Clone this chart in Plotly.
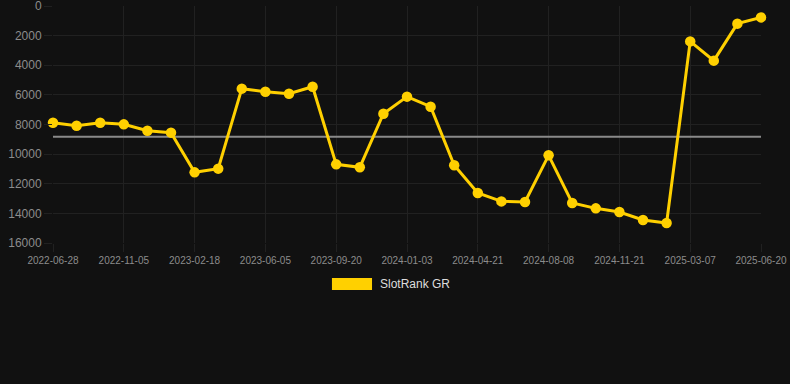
import plotly.graph_objects as go

dates = ["2022-06-28", "2022-08-10", "2022-09-23", "2022-11-05", "2022-12-18", "2023-01-31",
         "2023-02-18", "2023-04-02", "2023-05-15", "2023-06-05", "2023-07-18", "2023-08-30",
         "2023-09-20", "2023-11-02", "2023-12-15", "2024-01-03", "2024-02-15", "2024-03-29",
         "2024-04-21", "2024-06-03", "2024-07-16", "2024-08-08", "2024-09-20", "2024-11-02",
         "2024-11-21", "2025-01-03", "2025-02-15", "2025-03-07", "2025-04-19", "2025-06-01",
         "2025-06-20"]
ranks = [7880, 8080, 7880, 7990, 8420, 8550, 11230, 10980, 5580, 5790, 5920, 5450,
         10690, 10890, 7270, 6120, 6800, 10750, 12620, 13190, 13230, 10080, 13300, 13660,
         13910, 14450, 14650, 2390, 3690, 1190, 770]
series_name = "SlotRank GR"
y_ticks = [0, 2000, 4000, 6000, 8000, 10000, 12000, 14000, 16000]
y_labels = [str(v) for v in y_ticks]

avg = sum(ranks) / len(ranks)
yellow = "#FFD000"
grid = "#212121"

fig = go.Figure()
fig.add_trace(go.Scatter(
    x=dates, y=[avg] * len(dates), mode="lines",
    line=dict(color="#8a8a8a", width=2), hoverinfo="skip", showlegend=False))
fig.add_trace(go.Scatter(
    x=dates, y=ranks, mode="lines+markers", name=series_name,
    line=dict(color=yellow, width=3), marker=dict(color=yellow, size=10.5),
    cliponaxis=False, showlegend=False))

fig.update_layout(
    width=790, height=384,
    margin=dict(l=53, r=29, t=6, b=141, autoexpand=False),
    paper_bgcolor="#111111", plot_bgcolor="#111111",
    font=dict(family="Liberation Sans, Arial, sans-serif", color="#8c8c8c"),
    xaxis=dict(type="category", range=[0, len(dates) - 1],
               tickvals=dates[::3], ticktext=dates[::3],
               tickangle=0, automargin=False,
               showgrid=True, gridcolor=grid, gridwidth=1,
               ticks="outside", ticklen=8, tickcolor=grid,
               tickfont=dict(size=10, color="#8c8c8c"),
               zeroline=False, showline=False),
    yaxis=dict(range=[16000, 0], tickvals=y_ticks, ticktext=y_labels,
               ticklabeloverflow="allow", automargin=False,
               showgrid=True, gridcolor=grid, gridwidth=1,
               ticks="outside", ticklen=8, tickcolor=grid,
               tickfont=dict(size=12, color="#8c8c8c"),
               zeroline=False, showline=False),
    shapes=[dict(type="rect", xref="paper", yref="paper",
                 x0=0.394, x1=0.4506, y0=-0.198, y1=-0.1477,
                 fillcolor=yellow, line=dict(width=0))],
    annotations=[dict(text=series_name, xref="paper", yref="paper",
                      x=0.459, y=-0.173, xanchor="left", yanchor="middle",
                      showarrow=False, font=dict(size=12, color="#dddddd"))],
)

fig.write_html(
    "out.html",
    config={"displayModeBar": False},
    post_script="document.body.style.margin='0';document.body.style.background='#111111';",
)
